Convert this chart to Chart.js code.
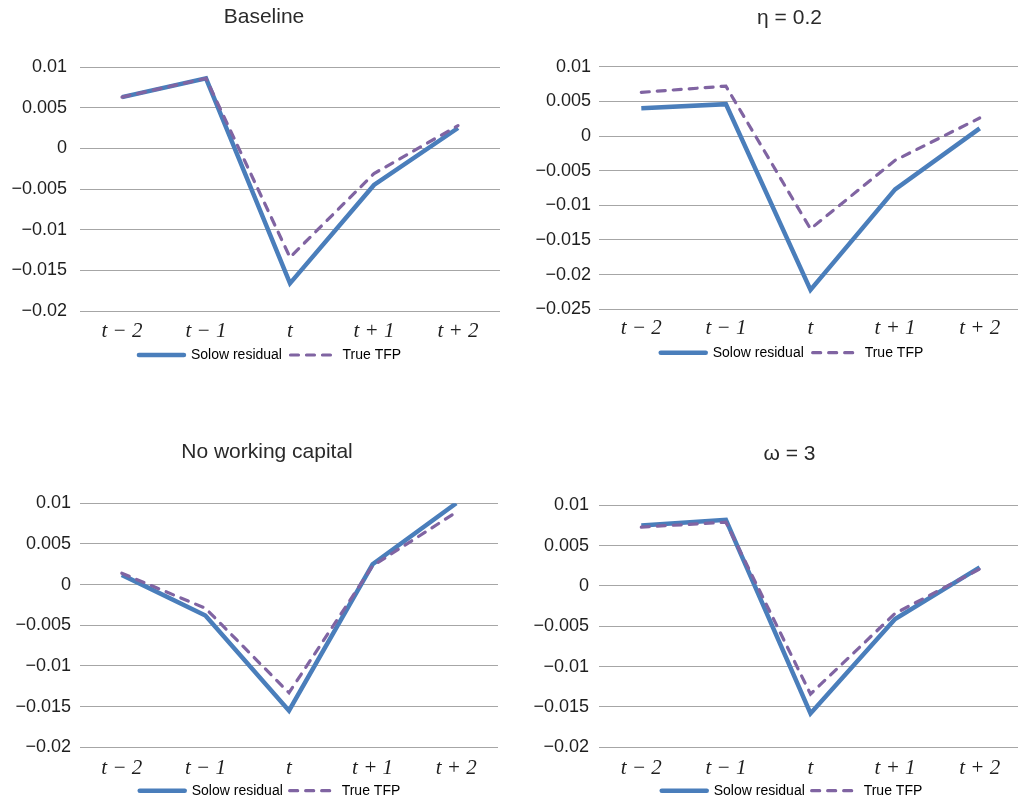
<!DOCTYPE html>
<html>
<head>
<meta charset="utf-8">
<script src="https://cdn.jsdelivr.net/npm/chart.js@4"></script>
<style>
  html, body { margin: 0; padding: 0; background: #ffffff; overflow: hidden; width: 1018px; height: 800px; }
  .panel { position: absolute; }
</style>
</head>
<body>
<div class="panel" style="left:0px;top:0px;width:509px;height:400px"><canvas id="c1" width="509" height="400"></canvas></div>
<div class="panel" style="left:509px;top:0px;width:513px;height:400px"><canvas id="c2" width="513" height="400"></canvas></div>
<div class="panel" style="left:0px;top:400px;width:509px;height:410px"><canvas id="c3" width="509" height="410"></canvas></div>
<div class="panel" style="left:509px;top:400px;width:513px;height:410px"><canvas id="c4" width="513" height="410"></canvas></div>
<script>
// ---- data ----
const categories = ['t − 2', 't − 1', 't', 't + 1', 't + 2'];
const seriesNames = ['Solow residual', 'True TFP'];
const panelTitles = ['Baseline', 'η = 0.2', 'No working capital', 'ω = 3'];

const baselineSolow = [0.0063, 0.0086, -0.0166, -0.0045, 0.0025];
const baselineTFP   = [0.0063, 0.0086, -0.0134, -0.0031, 0.0028];
const eta02Solow    = [0.0040, 0.0046, -0.0222, -0.0077, 0.0011];
const eta02TFP      = [0.0063, 0.0072, -0.0134, -0.0035, 0.0026];
const noWCSolow     = [0.0012, -0.0038, -0.0155, 0.0025, 0.0100];
const noWCTFP       = [0.0014, -0.0029, -0.0133, 0.0023, 0.0089];
const omega3Solow   = [0.0075, 0.0082, -0.0158, -0.0041, 0.0023];
const omega3TFP     = [0.0073, 0.0079, -0.0134, -0.0034, 0.0021];

const yMins = [-0.02, -0.025, -0.02, -0.02];
const yMax = 0.01;
const yStep = 0.005;

// ---- styling ----
const BLUE = '#4a7ebb';
const PURPLE = '#8064a2';
const GRID = '#a6a6a6';
const TEXT = '#1e1e1e';

function fmt(v) {
  const r = Math.round(v * 1000) / 1000;
  if (Math.abs(r) < 1e-9) return '0';
  const s = String(Math.abs(r));
  return (r < 0 ? '\u2212' : '') + s;
}

// shift the title / legend blocks horizontally after layout (centering as in the reference)
const shiftBlocks = {
  id: 'shiftBlocks',
  afterLayout(chart, args, opts) {
    if (chart.titleBlock && opts.title != null) chart.titleBlock.left = opts.title;
    if (chart.legend && opts.legend != null) chart.legend.left = opts.legend;
  }
};

function makeChart(id, title, solow, tfp, yMin, L) {
  const ctx = document.getElementById(id);
  return new Chart(ctx, {
    type: 'line',
    plugins: [shiftBlocks],
    data: {
      labels: categories,
      datasets: [
        { label: seriesNames[0], data: solow, borderColor: BLUE, backgroundColor: BLUE,
          borderWidth: 4.5, pointRadius: 0, tension: 0, fill: false, order: 1,
          borderJoinStyle: 'miter', borderCapStyle: 'butt' },
        { label: seriesNames[1], data: tfp, borderColor: PURPLE, backgroundColor: PURPLE,
          borderWidth: 3.2, borderDash: [8, 8], borderCapStyle: 'round', pointRadius: 0, tension: 0,
          fill: false, order: 0, borderJoinStyle: 'miter' }
      ]
    },
    options: {
      responsive: false,
      animation: false,
      devicePixelRatio: 1,
      layout: { padding: { left: 0, right: L.padR, top: 0, bottom: L.padB } },
      plugins: {
        shiftBlocks: { title: L.titleLeft, legend: L.legendLeft },
        title: {
          display: true, text: title, color: '#2a2a2a',
          font: { family: 'Liberation Sans, Arial, sans-serif', size: 21, weight: 'normal', lineHeight: 1.2 },
          padding: { top: L.titleTop, bottom: L.titleBottom }
        },
        legend: {
          display: true, position: 'bottom', align: 'center',
          labels: {
            usePointStyle: true, pointStyleWidth: 45, padding: L.lp, color: TEXT,
            font: { family: 'Liberation Sans, Arial, sans-serif', size: 14 },
            generateLabels: (chart) => chart.data.datasets.map((ds, i) => ({
              text: ds.label,
              fillStyle: ds.borderColor,
              strokeStyle: ds.borderColor,
              lineWidth: i === 0 ? 4.5 : 3.2,
              lineDash: ds.borderDash || [],
              lineCap: 'round',
              pointStyle: 'line',
              hidden: false,
              datasetIndex: i
            }))
          }
        },
        tooltip: { enabled: false }
      },
      scales: {
        x: {
          offset: true,
          grid: { display: false, drawTicks: false },
          border: { display: false },
          ticks: {
            color: TEXT, padding: L.xPad, maxRotation: 0, autoSkip: false,
            font: { family: 'Liberation Serif, Times New Roman, serif', size: 21, style: 'italic', lineHeight: 1.2 }
          },
          afterFit: (s) => { s.height = L.xH; }
        },
        y: {
          min: yMin, max: yMax,
          grid: { color: GRID, lineWidth: 1, drawTicks: false },
          border: { display: false },
          ticks: {
            stepSize: yStep, color: TEXT, padding: L.yPad,
            font: { family: 'Liberation Sans, Arial, sans-serif', size: 18 },
            callback: (v) => fmt(v)
          },
          afterFit: (s) => { s.width = L.yW; }
        }
      }
    }
  });
}

makeChart('c1', panelTitles[0], baselineSolow, baselineTFP, yMins[0],
  { yW: 80, padR: 9, yPad: 13, titleTop: 4.4, titleBottom: 37.4, xPad: 7.4, xH: 28.5, lp: 8.5, padB: 28,
    titleLeft: 28, legendLeft: 40 });
makeChart('c2', panelTitles[1], eta02Solow, eta02TFP, yMins[1],
  { yW: 90, padR: 0, yPad: 8, titleTop: 5.4, titleBottom: 36.1, xPad: 6.4, xH: 27.5, lp: 8.9, padB: 30.3,
    titleLeft: 48, legendLeft: 53 });
makeChart('c3', panelTitles[2], noWCSolow, noWCTFP, yMins[2],
  { yW: 80, padR: 11, yPad: 9, titleTop: 40.1, titleBottom: 38, xPad: 8.4, xH: 29.5, lp: 6.9, padB: 2.3,
    titleLeft: 36, legendLeft: 42 });
makeChart('c4', panelTitles[3], omega3Solow, omega3TFP, yMins[3],
  { yW: 90, padR: 0, yPad: 10, titleTop: 41.4, titleBottom: 38.7, xPad: 8.4, xH: 29.5, lp: 6.9, padB: 2.3,
    titleLeft: 48, legendLeft: 53 });
</script>
</body>
</html>
